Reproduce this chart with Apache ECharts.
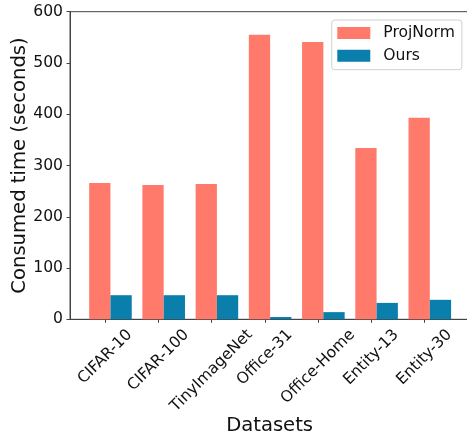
<!DOCTYPE html>
<html>
<head>
<meta charset="utf-8">
<script src="https://cdn.jsdelivr.net/npm/echarts@6/dist/echarts.min.js"></script>
<style>
  html, body { margin: 0; padding: 0; background: #fff; }
  #chart { width: 467px; height: 435px; }
</style>
</head>
<body>
<div id="chart"></div>
<script>
// ---- Data ----
const categories = ['CIFAR-10', 'CIFAR-100', 'TinyImageNet', 'Office-31', 'Office-Home', 'Entity-13', 'Entity-30'];
const projNorm = [266, 262, 264, 555, 541, 334, 393];
const ours = [47, 47, 47, 4.5, 14, 32, 38];
const seriesNames = ['ProjNorm', 'Ours'];
const yTicks = [0, 100, 200, 300, 400, 500, 600];

// ---- Style ----
const FONT = 'DejaVu Sans';
const tickFont = 15.6;
const titleFont = 19.6;
const red = '#FF7A6A';
const blue = '#0A7FAB';
const axisColor = '#444';
const textColor = '#111';

const xMin = -0.66, xMax = 6.84;
const gridLeft = 70, gridWidth = 399.2, gridTop = 11.7, gridBottom = 115.7;
const unitPx = gridWidth / (xMax - xMin);
const barW = 0.4 * unitPx;

// measure label widths to emulate centred rotated labels
const cv = document.createElement('canvas').getContext('2d');
cv.font = tickFont + 'px "' + FONT + '"';
const rich = {};
categories.forEach((c, i) => {
  const L = cv.measureText(c).width;
  const p = (L + tickFont) / 2;
  rich['c' + i] = { padding: [p, p, 0, 0], fontSize: tickFont, fontFamily: FONT, color: textColor };
});

const idx = categories.map((_, i) => i);
const redData = projNorm.map((v, i) => [i - 0.1, v]);
const blueData = ours.map((v, i) => [i + 0.3, v]);

const chart = echarts.init(document.getElementById('chart'), null, { renderer: 'canvas' });
chart.setOption({
  animation: false,
  backgroundColor: '#fff',
  textStyle: { fontFamily: FONT },
  grid: {
    left: gridLeft, top: gridTop, width: gridWidth, bottom: gridBottom,
    show: true, borderColor: axisColor, borderWidth: 1, backgroundColor: 'transparent',
    containLabel: false, outerBoundsMode: 'none'
  },
  legend: {
    orient: 'vertical',
    left: 331.7, top: 20,
    data: seriesNames,
    itemWidth: 33, itemHeight: 12, itemGap: 6.7,
    padding: [5, 7, 6, 5.6],
    borderColor: '#d0d0d0', borderWidth: 1, borderRadius: 3,
    backgroundColor: 'rgba(255,255,255,0.8)',
    textStyle: { fontSize: tickFont, fontFamily: FONT, color: textColor, padding: [0, 0, 0, 8] },
    icon: 'rect'
  },
  xAxis: {
    type: 'value',
    min: xMin, max: xMax,
    name: 'Datasets', nameLocation: 'middle', nameGap: 97,
    nameMoveOverlap: false,
    nameTextStyle: { fontSize: titleFont, fontFamily: FONT, color: textColor },
    axisLine: { show: true, onZero: false, lineStyle: { color: axisColor, width: 1 } },
    axisTick: { show: true, inside: false, length: 3.5, customValues: idx, lineStyle: { color: axisColor } },
    axisLabel: {
      show: true, customValues: idx, rotate: 45, margin: 7.5,
      align: 'center', verticalAlign: 'middle',
      formatter: v => { const i = Math.round(v); return '{c' + i + '|' + categories[i] + '}'; },
      rich: rich, fontSize: tickFont, fontFamily: FONT, color: textColor,
      hideOverlap: false
    },
    splitLine: { show: false }
  },
  yAxis: {
    type: 'value',
    min: 0, max: 600, interval: 100,
    name: 'Consumed time (seconds)', nameLocation: 'middle', nameGap: 40,
    nameMoveOverlap: false,
    nameTextStyle: { fontSize: titleFont, fontFamily: FONT, color: textColor },
    axisLine: { show: true, onZero: false, lineStyle: { color: axisColor, width: 1 } },
    axisTick: { show: true, inside: false, length: 3.5, lineStyle: { color: axisColor } },
    axisLabel: {
      margin: 7, fontSize: tickFont, fontFamily: FONT, color: textColor,
      formatter: v => String(v)
    },
    splitLine: { show: false }
  },
  series: [
    { name: seriesNames[0], type: 'bar', data: redData, barWidth: barW, barGap: '-100%', itemStyle: { color: red } },
    { name: seriesNames[1], type: 'bar', data: blueData, barWidth: barW, barGap: '-100%', itemStyle: { color: blue } }
  ]
});
</script>
</body>
</html>
